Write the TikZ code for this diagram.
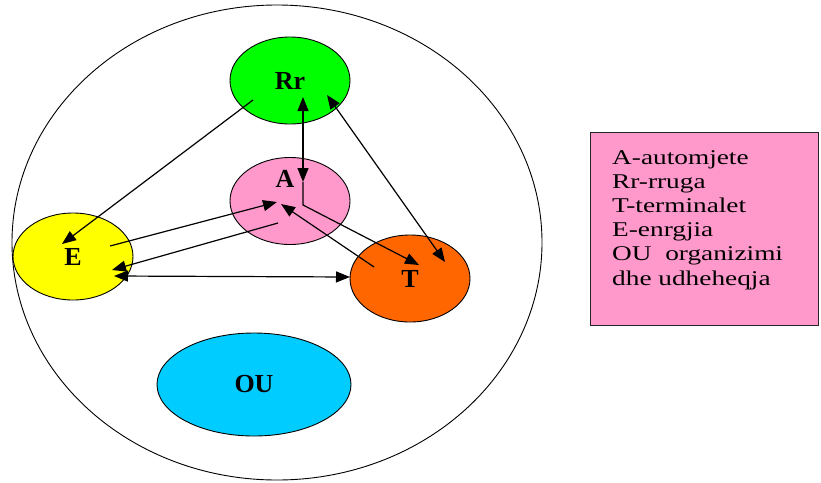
\documentclass[tikz,border=0pt]{standalone}
\usepackage{fontspec}
\setmainfont{Liberation Serif}
\newfontfamily\legendfont[FakeStretch=1.3]{Liberation Serif}
\usepackage{tikz}
\usetikzlibrary{arrows.meta,positioning,calc,shapes.geometric}
\definecolor{rrgreen}{RGB}{0,255,0}
\definecolor{apink}{RGB}{255,153,204}
\definecolor{eyellow}{RGB}{255,255,0}
\definecolor{torange}{RGB}{255,102,0}
\definecolor{oucyan}{RGB}{0,204,255}

\begin{document}
\begin{tikzpicture}[x=1pt, y=-1pt,
  lbl/.style={font=\fontsize{26}{30}\selectfont\bfseries},
  blob/.style={ellipse, draw, line width=0.9pt, inner sep=0pt, outer sep=0pt,
    minimum width=120pt, minimum height=87pt, lbl},
  oneway/.style={line width=1.2pt, -{Triangle[length=14pt,width=11pt]}},
  twoway/.style={line width=1.2pt, {Triangle[length=14pt,width=11pt]}-{Triangle[length=14pt,width=11pt]}}]
  \useasboundingbox (0,0) rectangle (821,482);
  % whole system
  \node[ellipse, draw, line width=0.9pt, inner sep=0pt,
    minimum width=530pt, minimum height=475pt] (system) at (277,242.5) {};
  % elements
  \node[blob, fill=rrgreen] (Rr) at (290,80.5) {Rr};
  \node[blob, fill=apink, label={[lbl, xshift=-5pt, yshift=22pt]center:A}] (A) at (290,201) {};
  \node[blob, fill=eyellow] (E) at (73,256.5) {E};
  \node[blob, fill=torange] (T) at (410,278.5) {T};
  \node[blob, fill=oucyan, minimum width=194pt, minimum height=103pt] (OU) at (254,384.5) {OU};
  % arrow ends
  \coordinate (rrA) at (303,97);
  \coordinate (aRr) at (303,182);
  \coordinate (aBend) at (303,205);
  \coordinate (tA) at (419,265);
  \coordinate (rrT) at (327,95);
  \coordinate (tRr) at (445,262);
  \coordinate (rrE) at (253,100);
  \coordinate (eRr) at (62,244);
  \coordinate (eOut) at (110,246);
  \coordinate (aIn) at (277,202);
  \coordinate (aOut) at (278,223);
  \coordinate (eIn) at (112,270);
  \coordinate (tOut) at (374,267);
  \coordinate (aIn2) at (281,204);
  \coordinate (eT) at (114,276);
  \coordinate (tE) at (350,277);
  % links
  \draw[twoway] (rrA) -- (aRr);
  \draw[oneway] (aRr) -- (aBend) -- (tA);
  \draw[twoway] (rrT) -- (tRr);
  \draw[oneway] (rrE) -- (eRr);
  \draw[oneway] (eOut) -- (aIn);
  \draw[oneway] (aOut) -- (eIn);
  \draw[oneway] (tOut) -- (aIn2);
  \draw[twoway] (eT) -- (tE);
  % legend
  \node[draw=black!85, line width=1.3pt, fill=apink, anchor=north west,
    minimum width=228pt, minimum height=193pt, inner sep=0pt] (legend) at (590,132) {};
  \node[font=\legendfont\fontsize{21}{24.2}\selectfont, align=left, inner sep=0pt,
    anchor=north west, below right=18pt and 22pt of legend.north west] (legendtext)
    {A-automjete\\Rr-rruga\\T-terminalet\\E-enrgjia\\OU\ \ organizimi\\dhe udheheqja};
\end{tikzpicture}
\end{document}
